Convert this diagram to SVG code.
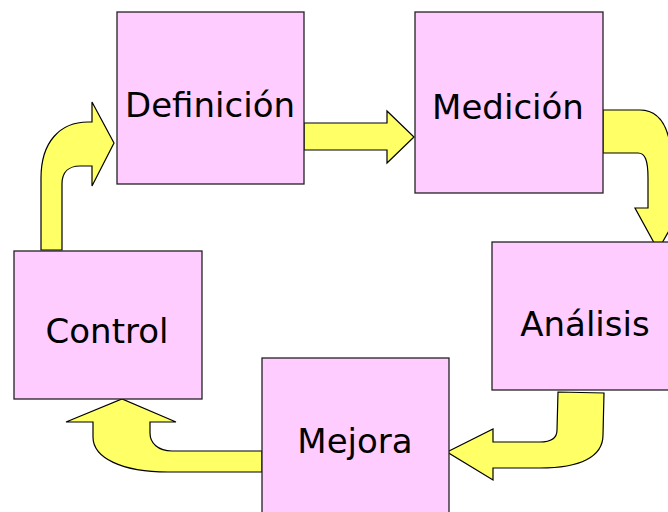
<svg xmlns="http://www.w3.org/2000/svg" width="668" height="512" viewBox="0 0 668 512">
<style>
.box{fill:#FFCCFF;stroke:#222;stroke-width:1.3}
.arr{fill:#FFFF66;stroke:#000;stroke-width:1.2;stroke-linejoin:miter}
.lbl{font-family:"DejaVu Sans",Verdana,sans-serif;font-size:34px;fill:#000;text-anchor:middle}
</style>
<rect width="668" height="512" fill="#fff"/>
<g id="connectors">
<path class="arr" d="M41,250 L41,178 C41,142 60,122 88,122 L92,122 L92,102 L114,143 L92,186 L92,166 L80,166 C69,166 62,172 62,184 L62,250 Z"/>
<path class="arr" d="M304,123 L387,123 L387,111 L414,137 L387,163 L387,150 L304,150 Z"/>
<path class="arr" d="M603,110 L640,110 C662,110 672,132 672,170 L672,208 L682,208 L658,250 L635,208 L648,208 L648,178 C648,160 645,153 638,153 L603,153 Z"/>
<path class="arr" d="M558,392 L604,393 L603,435 C603,457 580,468 540,468 L493,468 L493,480 L447,452 L493,429 L493,442 L540,442 C552,442 557,438 557,430 Z"/>
<path class="arr" d="M262,451 L172,451 C158,451 150,443 150,433 L150,422 L176,422 L122,399 L66,422 L93,422 L93,437 C93,458 122,472 168,472 L262,472 Z"/>
</g>
<g id="definicion">
<rect class="box" x="117" y="12" width="187" height="172"/>
<text class="lbl" x="210" y="117">Definición</text>
</g>
<g id="medicion">
<rect class="box" x="415" y="12" width="188" height="181"/>
<text class="lbl" x="508" y="119">Medición</text>
</g>
<g id="analisis">
<rect class="box" x="492" y="242" width="190" height="148"/>
<text class="lbl" x="585" y="336">Análisis</text>
</g>
<g id="control">
<rect class="box" x="14" y="251" width="188" height="148"/>
<text class="lbl" x="107" y="343">Control</text>
</g>
<g id="mejora">
<rect class="box" x="262" y="358" width="187" height="160"/>
<text class="lbl" x="355" y="453">Mejora</text>
</g>
</svg>
